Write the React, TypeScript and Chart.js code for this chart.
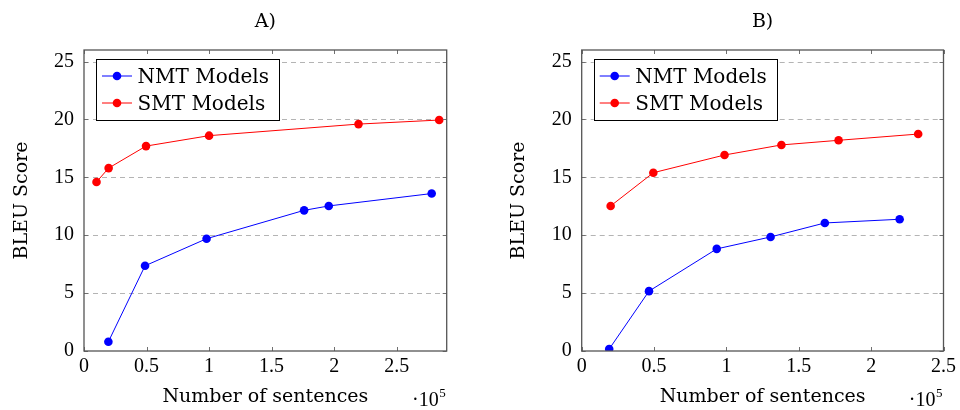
import React, { useEffect, useRef } from "react";
import { Chart, registerables } from "chart.js";

Chart.register(...registerables);

// ---------- data ----------
const panelTitles = ["A)", "B)"];
const seriesNames = ["NMT Models", "SMT Models"];
const seriesColors = ["rgb(0,0,255)", "rgb(255,0,0)"];

const nmtA_x = [0.195, 0.488, 0.98, 1.76, 1.957, 2.78];
const nmtA_y = [0.8, 7.36, 9.7, 12.15, 12.53, 13.6];
const smtA_x = [0.1, 0.197, 0.496, 1.0, 2.195, 2.84];
const smtA_y = [14.6, 15.8, 17.7, 18.6, 19.6, 19.95];

const nmtB_x = [0.19, 0.465, 0.933, 1.305, 1.68, 2.197];
const nmtB_y = [0.17, 5.17, 8.82, 9.85, 11.06, 11.38];
const smtB_x = [0.2, 0.495, 0.987, 1.38, 1.775, 2.325];
const smtB_y = [12.53, 15.4, 16.93, 17.8, 18.2, 18.74];

const xTicksA = [0, 0.5, 1, 1.5, 2, 2.5];
const xTicksB = [0, 0.5, 1, 1.5, 2, 2.5];
const yTicks = [0, 5, 10, 15, 20, 25];
const xMaxA = 2.9;
const xMaxB = 2.5;
const yMax = 26;

const xAxisTitle = "Number of sentences";
const yAxisTitle = "BLEU Score";
const xExpBase = "·10";
const xExpPower = "5";

const LABEL_FONT = "'DejaVu Serif', serif";
const TICK_FONT = "'Liberation Serif', serif";

type PanelProps = {
  title: string;
  nmtX: number[];
  nmtY: number[];
  smtX: number[];
  smtY: number[];
  xTicks: number[];
  xMax: number;
  yAxisWidth: number;
  rightPad: number;
};

const toPoints = (xs: number[], ys: number[]) => xs.map((x, i) => ({ x, y: ys[i] }));

function Panel(props: PanelProps) {
  const ref = useRef<HTMLCanvasElement | null>(null);
  useEffect(() => {
    if (!ref.current) return;
    const { title, nmtX, nmtY, smtX, smtY, xTicks, xMax, yAxisWidth, rightPad } = props;

    const decor = {
      id: "decor",
      beforeDatasetsDraw(chart: any) {
        const { ctx, chartArea: a, scales } = chart;
        ctx.save();
        ctx.strokeStyle = "#b4b4b4";
        ctx.lineWidth = 1;
        ctx.setLineDash([5, 4]);
        for (const v of yTicks) {
          if (v === 0) continue;
          const y = Math.round(scales.y.getPixelForValue(v)) + 0.5;
          ctx.beginPath();
          ctx.moveTo(a.left, y);
          ctx.lineTo(a.right, y);
          ctx.stroke();
        }
        ctx.restore();
      },
      afterDatasetsDraw(chart: any) {
        const { ctx, chartArea: a, scales } = chart;
        ctx.save();
        // inner ticks
        ctx.strokeStyle = "#707070";
        ctx.lineWidth = 1;
        const tl = 4;
        for (const v of xTicks) {
          const x = Math.round(scales.x.getPixelForValue(v)) + 0.5;
          ctx.beginPath();
          ctx.moveTo(x, a.bottom);
          ctx.lineTo(x, a.bottom - tl);
          ctx.moveTo(x, a.top);
          ctx.lineTo(x, a.top + tl);
          ctx.stroke();
        }
        for (const v of yTicks) {
          const y = Math.round(scales.y.getPixelForValue(v)) + 0.5;
          ctx.beginPath();
          ctx.moveTo(a.left, y);
          ctx.lineTo(a.left + tl, y);
          ctx.moveTo(a.right, y);
          ctx.lineTo(a.right - tl, y);
          ctx.stroke();
        }
        // frame
        ctx.strokeStyle = "#555555";
        ctx.lineWidth = 1.3;
        ctx.strokeRect(a.left, a.top, a.right - a.left, a.bottom - a.top);

        // legend
        ctx.font = `20px ${LABEL_FONT}`;
        const tw = Math.max(...seriesNames.map((s) => ctx.measureText(s).width));
        const bx = a.left + 12;
        const by = a.top + 9;
        const bw = Math.max(183, 41.5 + tw + 10);
        const bh = 61;
        ctx.fillStyle = "#ffffff";
        ctx.fillRect(bx, by, bw, bh);
        ctx.strokeStyle = "#000000";
        ctx.lineWidth = 1;
        ctx.strokeRect(Math.round(bx) + 0.5, Math.round(by) + 0.5, bw, bh);
        seriesNames.forEach((name, i) => {
          const ry = by + 17 + i * 27;
          ctx.strokeStyle = seriesColors[i];
          ctx.lineWidth = 1;
          ctx.beginPath();
          ctx.moveTo(bx + 6, ry);
          ctx.lineTo(bx + 36, ry);
          ctx.stroke();
          ctx.fillStyle = seriesColors[i];
          ctx.beginPath();
          ctx.arc(bx + 21, ry, 4.3, 0, Math.PI * 2);
          ctx.fill();
          ctx.fillStyle = "#000000";
          ctx.textAlign = "left";
          ctx.textBaseline = "alphabetic";
          ctx.fillText(name, bx + 41.5, ry + 6.8);
        });
        ctx.restore();
      },
      afterDraw(chart: any) {
        const { ctx, chartArea: a } = chart;
        const cx = (a.left + a.right) / 2;
        ctx.save();
        ctx.fillStyle = "#000000";
        ctx.textBaseline = "alphabetic";
        ctx.textAlign = "center";
        ctx.font = `19px ${LABEL_FONT}`;
        ctx.fillText(title, cx, 27.3);
        ctx.fillText(xAxisTitle, cx, 401.7);
        // y axis title
        ctx.save();
        ctx.translate(a.left - 57.3, (a.top + a.bottom) / 2);
        ctx.rotate(-Math.PI / 2);
        ctx.fillText(yAxisTitle, 0, 0);
        ctx.restore();
        // exponent
        ctx.textAlign = "right";
        ctx.font = `13px ${TICK_FONT}`;
        const pw = ctx.measureText(xExpPower).width;
        ctx.fillText(xExpPower, a.right - 1, 397);
        ctx.font = `20px ${TICK_FONT}`;
        ctx.fillText(xExpBase, a.right - 1 - pw - 0.5, 405.5);
        ctx.restore();
      },
    };

    const chart = new Chart(ref.current, {
      type: "line",
      data: {
        datasets: [
          {
            label: seriesNames[0],
            data: toPoints(nmtX, nmtY),
            borderColor: seriesColors[0],
            backgroundColor: seriesColors[0],
            pointBackgroundColor: seriesColors[0],
            pointBorderWidth: 0,
            pointRadius: 4.3,
            borderWidth: 1,
            tension: 0,
          },
          {
            label: seriesNames[1],
            data: toPoints(smtX, smtY),
            borderColor: seriesColors[1],
            backgroundColor: seriesColors[1],
            pointBackgroundColor: seriesColors[1],
            pointBorderWidth: 0,
            pointRadius: 4.3,
            borderWidth: 1,
            tension: 0,
          },
        ],
      },
      options: {
        responsive: false,
        animation: false,
        events: [],
        layout: { padding: { left: 0, right: rightPad, top: 50, bottom: 0 } },
        plugins: { legend: { display: false }, title: { display: false }, tooltip: { enabled: false } },
        scales: {
          x: {
            type: "linear",
            min: 0,
            max: xMax,
            grid: { display: false, drawTicks: false },
            border: { display: false },
            afterBuildTicks: (s: any) => {
              s.ticks = xTicks.map((v) => ({ value: v }));
            },
            afterFit: (s: any) => {
              s.height = 59;
            },
            ticks: {
              padding: 4,
              color: "#000000",
              font: { family: TICK_FONT, size: 20 },
              maxRotation: 0,
              autoSkip: false,
              callback: (v: any) => String(v),
            },
          },
          y: {
            type: "linear",
            min: 0,
            max: yMax,
            grid: { display: false, drawTicks: false },
            border: { display: false },
            afterBuildTicks: (s: any) => {
              s.ticks = yTicks.map((v) => ({ value: v }));
            },
            afterFit: (s: any) => {
              s.width = yAxisWidth;
            },
            ticks: {
              padding: 10,
              color: "#000000",
              font: { family: TICK_FONT, size: 20 },
              autoSkip: false,
              callback: (v: any) => String(v),
            },
          },
        },
      },
      plugins: [decor],
    } as any);
    return () => chart.destroy();
  }, []);
  return <canvas ref={ref} width={480} height={410} style={{ display: "block", width: 480, height: 410 }} />;
}

export default function App() {
  return (
    <div style={{ position: "fixed", left: 0, top: 0, width: 960, height: 410, background: "#ffffff" }}>
      <div style={{ position: "absolute", left: 0, top: 0, width: 480, height: 410 }}>
        <Panel
          title={panelTitles[0]}
          nmtX={nmtA_x}
          nmtY={nmtA_y}
          smtX={smtA_x}
          smtY={smtA_y}
          xTicks={xTicksA}
          xMax={xMaxA}
          yAxisWidth={84}
          rightPad={33.3}
        />
      </div>
      <div style={{ position: "absolute", left: 480, top: 0, width: 480, height: 410 }}>
        <Panel
          title={panelTitles[1]}
          nmtX={nmtB_x}
          nmtY={nmtB_y}
          smtX={smtB_x}
          smtY={smtB_y}
          xTicks={xTicksB}
          xMax={xMaxB}
          yAxisWidth={101.7}
          rightPad={15}
        />
      </div>
    </div>
  );
}
